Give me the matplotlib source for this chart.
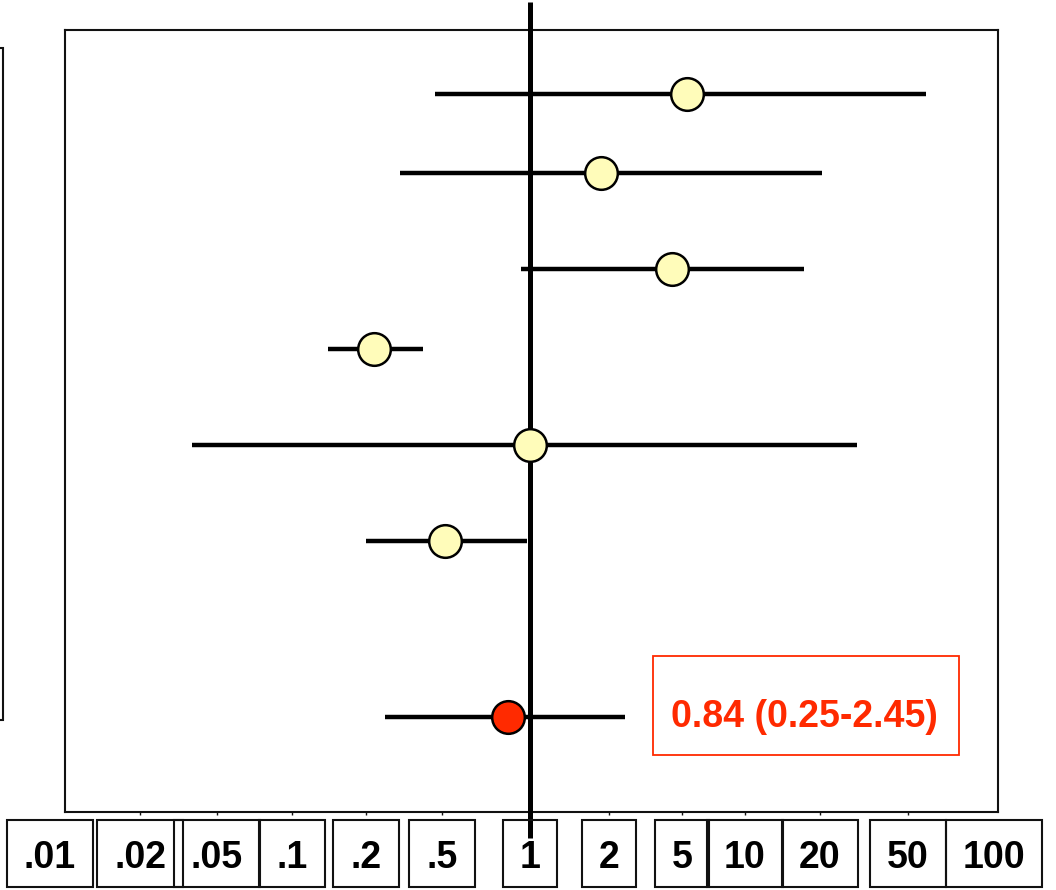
import numpy as np
import matplotlib
matplotlib.use("Agg")
import matplotlib.pyplot as plt
from matplotlib.patches import Rectangle
from matplotlib.transforms import blended_transform_factory

plt.rcParams['font.family'] = ['Liberation Sans', 'DejaVu Sans']

# Study odds ratios with 95% confidence limits, top to bottom
study_or = [5.3, 1.87, 4.4, 0.22, 1.0, 0.51]
study_lo = [0.46, 0.30, 0.93, 0.14, 0.037, 0.20]
study_hi = [58.0, 20.4, 17.2, 0.40, 29.4, 0.98]

# Pooled estimate
pooled_or = 0.84
pooled_lo = 0.25
pooled_hi = 2.45
pooled_label = "0.84 (0.25-2.45)"

# Odds-ratio axis ticks
tick_values = [0.01, 0.02, 0.05, 0.1, 0.2, 0.5, 1, 2, 5, 10, 20, 50, 100]
tick_labels = [".01", ".02", ".05", ".1", ".2", ".5", "1", "2", "5", "10", "20", "50", "100"]

# ---- layout -------------------------------------------------------------
W, H, DPI = 1056, 890, 100
# horizontal pixel position of each labelled tick (hand-spaced axis)
tick_pos = [50, 140, 217, 292, 366, 442, 530, 609, 682, 745, 820, 908, 994]
study_rows = [9.18, 8.17, 6.94, 5.92, 4.69, 3.47]
pooled_row = 1.21

YELLOW = "#FFFCBA"
RED = "#FF2A00"
INK = "#111111"

# piecewise-logarithmic scale through the labelled ticks
_lt = np.log10(tick_values)
_s0 = (tick_pos[1] - tick_pos[0]) / (_lt[1] - _lt[0])
_s1 = (tick_pos[-1] - tick_pos[-2]) / (_lt[-1] - _lt[-2])
_lx = np.concatenate([[_lt[0] - 10], _lt, [_lt[-1] + 10]])
_px = np.concatenate([[tick_pos[0] - 10 * _s0], tick_pos, [tick_pos[-1] + 10 * _s1]])


def forward(x):
    x = np.asarray(x, dtype=float)
    return np.interp(np.log10(np.clip(x, 1e-12, None)), _lx, _px)


def inverse(p):
    p = np.asarray(p, dtype=float)
    return 10 ** np.interp(p, _px, _lx)


fig = plt.figure(figsize=(W / DPI, H / DPI), dpi=DPI)
fig.patch.set_facecolor("white")

ax = fig.add_axes([65 / W, (H - 812) / H, (998 - 65) / W, (812 - 30) / H])
ax.set_xscale("function", functions=(forward, inverse))
ax.set_xlim(inverse(65), inverse(998))
ax.set_ylim(0, 10)
ax.set_yticks([])
ax.set_xticks(tick_values[1:-1])
ax.set_xticklabels([])
ax.tick_params(axis="x", direction="out", length=2.5, width=1.0, color=INK)
for sp in ax.spines.values():
    sp.set_linewidth(1.5)
    sp.set_color(INK)

# line of no effect, running past the frame
vtrans = blended_transform_factory(ax.transData, ax.transAxes)
ax.plot([1, 1], [(812 - 838) / 782, (812 - 2) / 782], transform=vtrans,
        clip_on=False, color="black", lw=3.6, solid_capstyle="butt", zorder=3)

# confidence intervals
ax.hlines(study_rows, study_lo, study_hi, color="black", lw=3.2,
          capstyle="butt", zorder=2)
ax.hlines([pooled_row], [pooled_lo], [pooled_hi], color="black", lw=3.2,
          capstyle="butt", zorder=2)

# point estimates
ax.plot(study_or, study_rows, ls="none", marker="o", ms=23.5,
        mfc=YELLOW, mec="black", mew=1.8, zorder=4)
ax.plot([pooled_or], [pooled_row], ls="none", marker="o", ms=23.5,
        mfc=RED, mec="black", mew=1.8, zorder=4)

# pooled estimate annotation
ax.add_patch(Rectangle((0.630, 0.0729), 0.328, 0.1266, transform=ax.transAxes,
                       fill=False, ec=RED, lw=1.3, zorder=3))
ax.text(0.793, pooled_row, pooled_label,
        transform=blended_transform_factory(ax.transAxes, ax.transData),
        ha="center", va="center", fontsize=27, fontweight="bold", color=RED,
        zorder=5)

# edge of the neighbouring panel on the left
fig.add_artist(Rectangle((-10 / W, (H - 720) / H), 13 / W, (720 - 48) / H,
                         transform=fig.transFigure, fill=False, ec=INK, lw=1.5))

# boxed tick labels
ltrans = blended_transform_factory(ax.transData, fig.transFigure)
label_texts = []
for v, lab in zip(tick_values, tick_labels):
    t = ax.text(v, (H - 868) / H, lab, transform=ltrans, ha="center",
                va="baseline", fontsize=27, fontweight="bold", color="black",
                clip_on=False, zorder=2)
    label_texts.append(t)

fig.canvas.draw()
renderer = fig.canvas.get_renderer()
pad = 17
for t in label_texts:
    bb = t.get_window_extent(renderer)
    fig.add_artist(Rectangle(((bb.x0 - pad) / W, (H - 887) / H),
                             (bb.width + 2 * pad) / W, 67 / H,
                             transform=fig.transFigure, fill=False,
                             ec=INK, lw=1.5, zorder=1))

fig.savefig("out.png", dpi=DPI, facecolor="white")
